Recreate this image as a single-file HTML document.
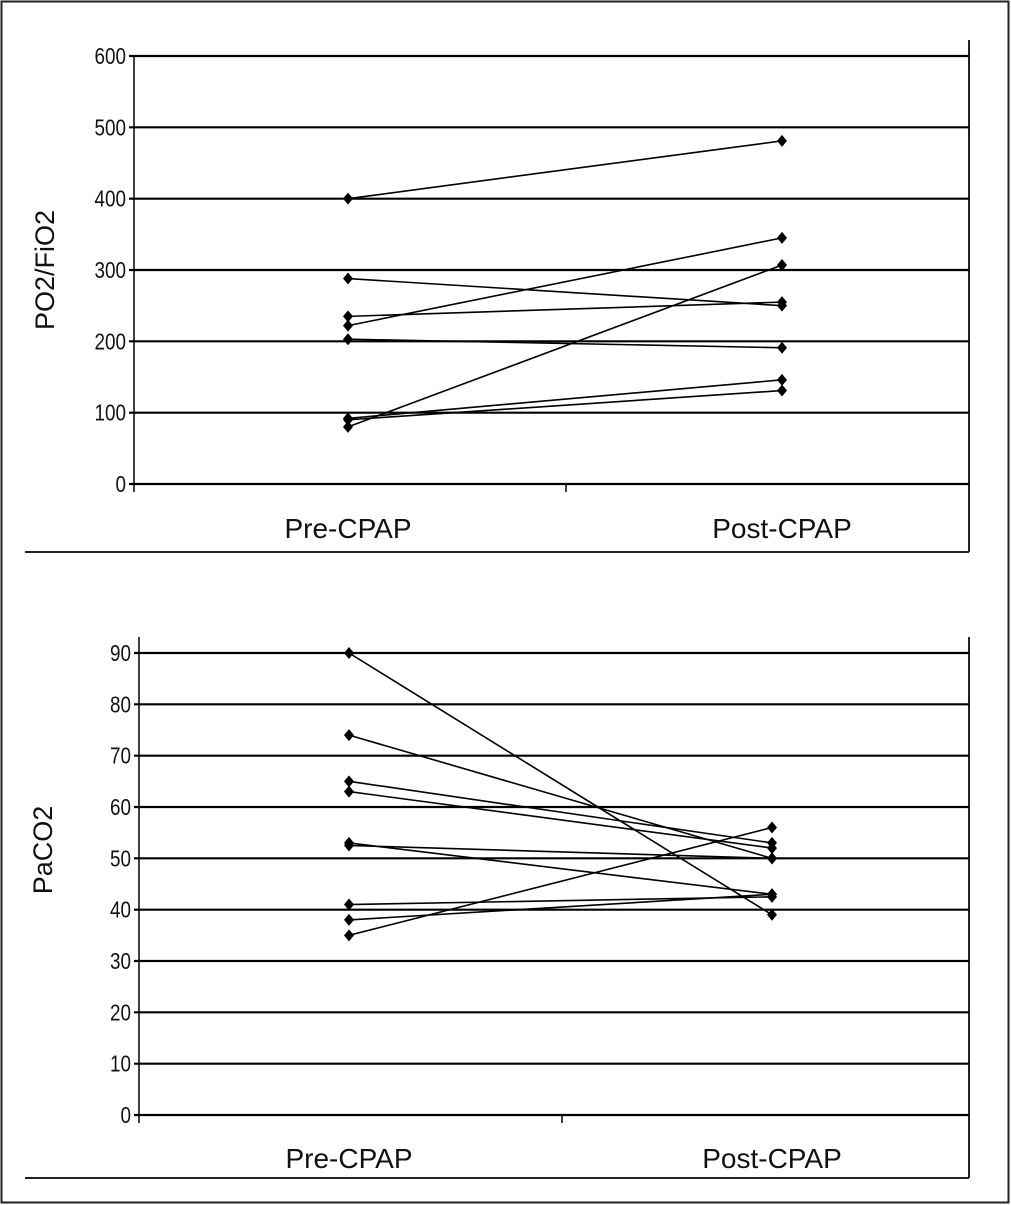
<!DOCTYPE html>
<html><head><meta charset="utf-8"><style>
body{margin:0;background:#fff;font-family:"Liberation Sans",sans-serif}
svg{display:block}
</style></head><body>
<svg id="s" width="1011" height="1205" xmlns="http://www.w3.org/2000/svg">
<rect x="1.5" y="1.5" width="1007" height="1201" fill="#fff" stroke="#222" stroke-width="2"/>
</svg>
<script>
const categories=["Pre-CPAP","Post-CPAP"];
const topTicks=[0,100,200,300,400,500,600];
const topPre=[400,288,235,222,203,92,90,80];
const topPost=[481,250,255,345,191,146,131,307];
const botTicks=[0,10,20,30,40,50,60,70,80,90];
const botPre=[90,74,65,63,53,52.5,41,38,35];
const botPost=[39,50,53,52,43,50,42.5,43,56];
const NS="http://www.w3.org/2000/svg";
const svg=document.getElementById('s');
function mk(t,a,p){const e=document.createElementNS(NS,t);for(const k in a)e.setAttribute(k,a[k]);(p||svg).appendChild(e);return e;}
function chart(cfg){
  const g=mk('g',{});
  
  
  const y=v=>cfg.y0+(v-cfg.min)/(cfg.max-cfg.min)*(cfg.y1-cfg.y0);
  const x=i=>cfg.xs[i];
  const rb=mk('line',{x1:cfg.right,y1:cfg.rtop,x2:cfg.right,y2:cfg.bottom,stroke:'#222','stroke-width':2},g);
  
  const bb=mk('line',{x1:25,y1:cfg.bottom,x2:cfg.right,y2:cfg.bottom,stroke:'#222','stroke-width':2},g);
  
  const ya=mk('line',{x1:cfg.left,y1:cfg.atop,x2:cfg.left,y2:y(cfg.min)+8,stroke:'#000','stroke-width':1.5},g);
  
  cfg.ticks.forEach(t=>{
    const l=mk('line',{x1:cfg.left-5,y1:y(t),x2:cfg.right,y2:y(t),stroke:'#000','stroke-width':2.2},g);
    
    const tx=mk('text',{x:0,y:0,'text-anchor':'end','font-size':23,fill:'#111',transform:`translate(${cfg.left-8},${y(t)+8}) scale(0.82,1)`},g);
    tx.textContent=t;
    
  });
  const tk=mk('line',{x1:cfg.mid,y1:y(cfg.min),x2:cfg.mid,y2:y(cfg.min)+8,stroke:'#000','stroke-width':1.5},g);
  
  categories.forEach((c,i)=>{
    const tx=mk('text',{x:x(i),y:cfg.labelY,'text-anchor':'middle','font-size':28,fill:'#111'},g);
    tx.textContent=c;
    
  });
  const yt=mk('text',{x:0,y:0,'text-anchor':'middle','font-size':27,fill:'#111',transform:`translate(${cfg.titleX},${cfg.titleY}) rotate(-90)`},g);
  yt.textContent=cfg.title;
  
  cfg.pre.forEach((p,i)=>{
    const q=cfg.post[i];
    const l=mk('line',{x1:x(0),y1:y(p),x2:x(1),y2:y(q),stroke:'#000','stroke-width':1.6},g);
    
    [[x(0),y(p)],[x(1),y(q)]].forEach(([a,b])=>{
      const m=mk('path',{d:`M${a},${b-6}L${a+5},${b}L${a},${b+6}L${a-5},${b}Z`,fill:'#000'},g);
      
    });
  });
}
chart({name:'po2-fio2-chart',ticks:topTicks,pre:topPre,post:topPost,min:0,max:600,y0:484,y1:56,left:134,right:969,atop:56,rtop:40,bottom:552,xs:[348,782],mid:566,labelY:538,title:'PO2/FiO2',titleX:54,titleY:270});
chart({name:'paco2-chart',ticks:botTicks,pre:botPre,post:botPost,min:0,max:90,y0:1115,y1:653,left:139,right:969,atop:637,rtop:637,bottom:1178,xs:[349,772],mid:562,labelY:1168,title:'PaCO2',titleX:52,titleY:850});
</script>
</body></html>
